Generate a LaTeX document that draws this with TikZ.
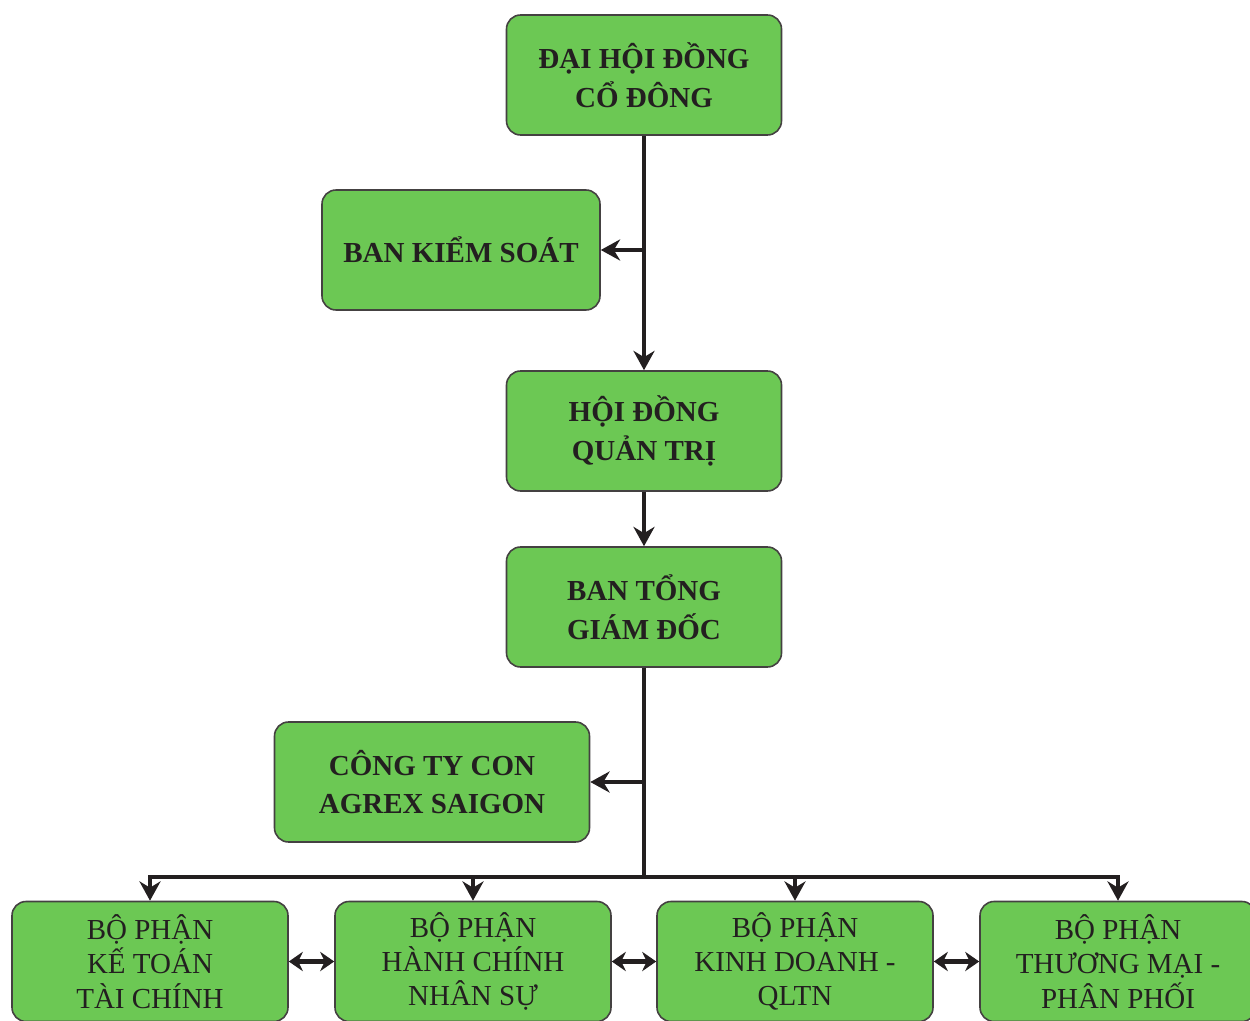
\documentclass[tikz,border=0pt]{standalone}
\usepackage{fontspec}
\setmainfont{Liberation Serif}
\usepackage{xcolor}
\usetikzlibrary{arrows.meta}
\definecolor{boxgreen}{RGB}{108,200,84}
\definecolor{lineblack}{RGB}{35,31,32}

\begin{document}
\begin{tikzpicture}[
                unit/.style={draw=lineblack!85, line width=0.9pt, fill=boxgreen, rounded corners=8pt,
                    align=center, minimum width=5.5cm, minimum height=2.4cm, inner sep=0pt,
                    text=lineblack, font=\bfseries\fontsize{16.5}{22}\selectfont},
                dept/.style={unit, minimum width=5.52cm, minimum height=2.4cm,
                    font=\fontsize{16.5}{19.5}\selectfont},
                link/.style={draw=lineblack, line width=2.2pt, -{Stealth[length=11pt,width=12pt]}},
                both/.style={draw=lineblack, line width=3.2pt,
                    {Stealth[length=8pt,width=11pt]}-{Stealth[length=8pt,width=11pt]}}
            ]
                \useasboundingbox (0,0) rectangle (25,20.4);

                \node[unit] (dhcd) at (12.88,18.9) {ĐẠI HỘI ĐỒNG\\CỔ ĐÔNG};
                \node[unit, minimum width=5.56cm] (bks) at (9.22,15.4) {BAN KIỂM SOÁT};
                \node[unit] (hdqt) at (12.88,11.78) {HỘI ĐỒNG\\QUẢN TRỊ};
                \node[unit] (btgd) at (12.88,8.26) {BAN TỔNG\\GIÁM ĐỐC};
                \node[unit, minimum width=6.3cm] (ctc) at (8.64,4.76) {CÔNG TY CON\\AGREX SAIGON};

                \node[dept] (ketoan) at (3.0,1.17) {BỘ PHẬN\\KẾ TOÁN\\TÀI CHÍNH};
                \node[dept] (hanhchinh) at (9.46,1.17) {BỘ PHẬN\\HÀNH CHÍNH\\NHÂN SỰ};
                \node[dept] (kinhdoanh) at (15.9,1.17) {BỘ PHẬN\\KINH DOANH -\\QLTN};
                \node[dept] (thuongmai) at (22.36,1.17) {BỘ PHẬN\\THƯƠNG MẠI -\\PHÂN PHỐI};

                \coordinate (bksjoin) at (dhcd.south |- bks.east);
                \coordinate (ctcjoin) at (btgd.south |- ctc.east);
                \coordinate (bus) at (btgd.south |- 0,2.86);

                \draw[link] (dhcd.south) -- (hdqt.north);
                \draw[link] (bksjoin) -- (bks.east);
                \draw[link] (hdqt.south) -- (btgd.north);
                \draw[link] (ctcjoin) -- (ctc.east);

                \draw[link] (btgd.south) -- (bus) -| (ketoan.north);
                \draw[link] (btgd.south) -- (bus) -| (hanhchinh.north);
                \draw[link] (btgd.south) -- (bus) -| (kinhdoanh.north);
                \draw[link] (btgd.south) -- (bus) -| (thuongmai.north);

                \draw[both] (ketoan.east) -- (hanhchinh.west);
                \draw[both] (hanhchinh.east) -- (kinhdoanh.west);
                \draw[both] (kinhdoanh.east) -- (thuongmai.west);
            \end{tikzpicture}
\end{document}
